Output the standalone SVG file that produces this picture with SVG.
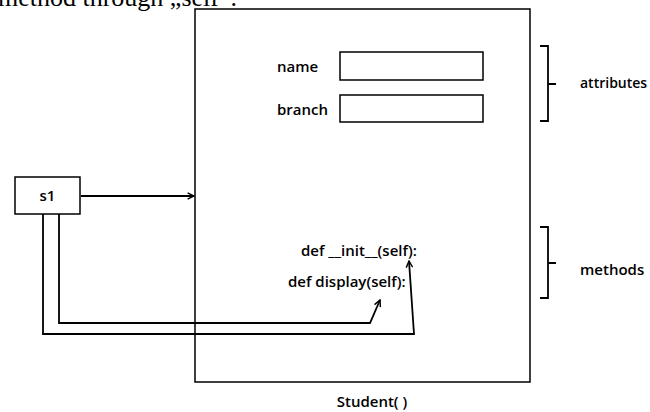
<svg xmlns="http://www.w3.org/2000/svg" width="650" height="412" viewBox="0 0 650 412">
<style>
.box{fill:#fff;stroke:#000;stroke-width:1.5}
.lbl{font-family:"Open Sans","Liberation Sans",sans-serif;font-weight:600;font-size:15px;fill:#000}
.con{fill:none;stroke:#000;stroke-width:1.8}
.br{fill:none;stroke:#000;stroke-width:1.8}
</style>
<defs>
<marker id="ah" viewBox="0 0 10 10" refX="9" refY="5" markerWidth="8" markerHeight="8" markerUnits="userSpaceOnUse" orient="auto">
<path d="M1,1 L9,5 L1,9" fill="none" stroke="#000" stroke-width="1.8"/>
</marker>
</defs>
<rect width="650" height="412" fill="#fff"/>
<text x="-2" y="6" font-family="Liberation Serif,serif" font-size="26px">method through „self”.</text>
<g id="student">
<rect class="box" x="195" y="9" width="335" height="373"/>
<text class="lbl" x="372" y="407" text-anchor="middle">Student( )</text>
</g>
<g id="name">
<text class="lbl" x="277" y="72">name</text>
<rect class="box" x="340" y="52" width="143" height="28"/>
</g>
<g id="branch">
<text class="lbl" x="277" y="115">branch</text>
<rect class="box" x="340" y="95" width="143" height="27"/>
</g>
<g id="init">
<text class="lbl" x="301" y="256">def __init__(self):</text>
</g>
<g id="display">
<text class="lbl" x="288" y="287">def display(self):</text>
</g>
<g id="s1">
<rect class="box" x="15" y="177" width="65" height="37"/>
<text class="lbl" x="47.5" y="201" text-anchor="middle">s1</text>
</g>
<g id="attributes">
<path class="br" d="M540,46 H548 V84 H556 M548,84 V121 H540"/>
<text class="lbl" x="580" y="88" style="font-size:14px">attributes</text>
</g>
<g id="methods">
<path class="br" d="M540,227 H548 V263 H556 M548,263 V298 H540"/>
<text class="lbl" x="580" y="275">methods</text>
</g>
<g id="connectors">
<path class="con" d="M81,196 H194" marker-end="url(#ah)"/>
<path class="con" d="M59,214 V323 H370 L380,300" marker-end="url(#ah)"/>
<path class="con" d="M43,214 V334 H414 L409,261" marker-end="url(#ah)"/>
</g>
</svg>
